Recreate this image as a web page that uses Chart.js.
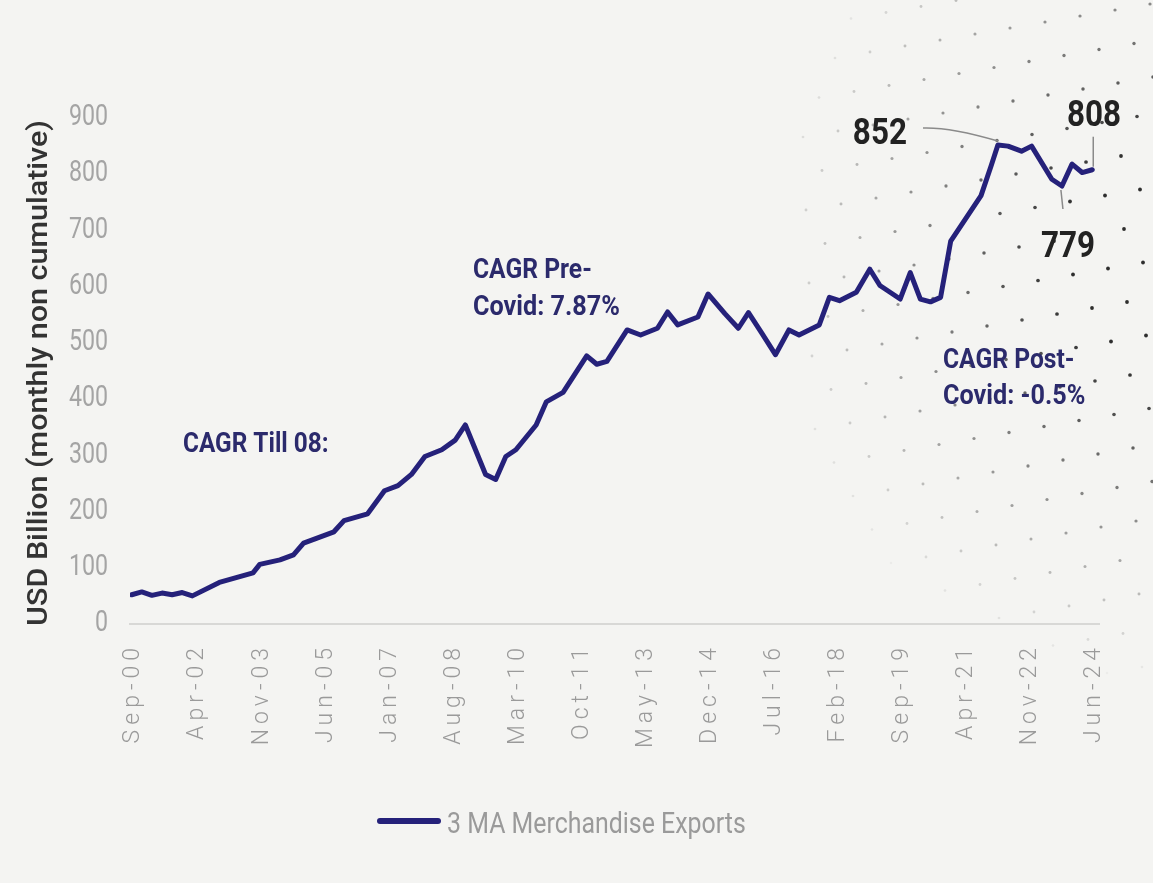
<!DOCTYPE html>
<html>
<head>
<meta charset="utf-8">
<title>Merchandise Exports</title>
<script src="https://cdn.jsdelivr.net/npm/chart.js@4.4.1/dist/chart.umd.min.js"></script>
<style>
  html, body { margin: 0; padding: 0; background: #f4f4f2; }
  #wrap { width: 1153px; height: 883px; }
</style>
</head>
<body>
<div id="wrap"><canvas id="exportsChart" width="1153" height="883"></canvas></div>
<script>
// months counted from Sep-2000, 3 month moving average of merchandise exports (USD bn)
const monthIdx = [0, 3, 6, 9, 12, 15, 18, 26, 36, 38, 44, 48, 51, 56, 60, 63, 70, 75, 79, 83,
  87, 92, 96, 99, 105, 108, 111, 114, 120, 123, 128, 135, 138, 141, 147, 151, 156, 159, 162, 168,
  171, 176, 180, 183, 187, 191, 195, 198, 204, 207, 210, 215, 219, 222, 228, 231, 234, 237, 240, 243,
  252, 255, 257, 260, 264, 267, 273, 276, 279, 282, 285];
const exportsBn = [52, 57, 51, 55, 52, 56, 50, 74, 91, 106, 114, 123, 144, 155, 164, 184, 196, 237, 246, 266,
  298, 310, 327, 354, 266, 257, 298, 310, 354, 395, 412, 477, 462, 467, 523, 514, 526, 555, 532, 546,
  587, 552, 526, 554, 517, 479, 523, 514, 532, 581, 575, 590, 631, 602, 578, 625, 578, 573, 581, 681,
  762, 815, 852, 850, 841, 850, 791, 779, 818, 803, 808];

const tickMonths = [0, 19, 38, 57, 76, 95, 114, 133, 152, 171, 190, 209, 228, 247, 266, 285];
const tickLabels = ["Sep-00", "Apr-02", "Nov-03", "Jun-05", "Jan-07", "Aug-08", "Mar-10", "Oct-11",
  "May-13", "Dec-14", "Jul-16", "Feb-18", "Sep-19", "Apr-21", "Nov-22", "Jun-24"];
const yTickValues = [0, 100, 200, 300, 400, 500, 600, 700, 800, 900];
const yTitle = "USD Billion (monthly non cumulative)";

// callouts: [month, value] anchors
const peakMark = { m: 257, v: 852, text: "852" };
const lowMark = { m: 276, v: 779, text: "779" };
const lastMark = { m: 285, v: 808, text: "808" };

const NAVY = "#25217a";
const FONT = '"Roboto", sans-serif';

const points = monthIdx.map((m, i) => ({ x: m, y: exportsBn[i] }));

// squeezed text, the labels use a narrow face
function narrowText(ctx, text, x, y, align, sx) {
  ctx.save();
  ctx.translate(x, y);
  ctx.scale(sx, 1);
  ctx.textAlign = align;
  ctx.fillText(text, 0, 0);
  ctx.restore();
}

// paper background with the halftone dots on the right
const backdrop = {
  id: "backdrop",
  beforeDraw(chart) {
    const ctx = chart.ctx;
    ctx.save();
    ctx.fillStyle = "#f4f4f2";
    ctx.fillRect(0, 0, chart.width, chart.height);
    for (let i = -40; i <= 40; i++) {
      for (let j = -10; j <= 30; j++) {
        const x = 943 + 35 * i - 16 * j;
        const y = 113 - 6 * i + 39.5 * j;
        if (x < 800 || x > chart.width || y < 0 || y > chart.height) continue;
        const d = Math.hypot(x - 1175, y - 260);
        const a = Math.max(0, Math.min(1, 1 - (d - 110) / 320));
        if (a <= 0.03) continue;
        ctx.fillStyle = `rgba(35,35,35,${(a * 0.95).toFixed(3)})`;
        ctx.beginPath();
        ctx.arc(x, y, 1.3 + a * 0.6, 0, Math.PI * 2);
        ctx.fill();
      }
    }
    ctx.restore();
  }
};

// axis labels: rotated, letter-spaced months, narrow value ticks and the value title
const axisLabels = {
  id: "axisLabels",
  afterDraw(chart) {
    const ctx = chart.ctx;
    const area = chart.chartArea;
    const xs = chart.scales.x, ys = chart.scales.y;
    const top = area.bottom + 24;
    ctx.save();
    ctx.font = '300 23px ' + FONT;
    ctx.fillStyle = "#9a9a9a";
    ctx.letterSpacing = "5px";
    ctx.textAlign = "right";
    ctx.textBaseline = "middle";
    tickMonths.forEach((m, i) => {
      ctx.save();
      ctx.translate(xs.getPixelForValue(m) + 2, top);
      ctx.rotate(-Math.PI / 2);
      ctx.fillText(tickLabels[i], 5, 0);
      ctx.restore();
    });
    ctx.letterSpacing = "0px";
    ctx.font = '29px ' + FONT;
    ctx.fillStyle = "#a4a4a4";
    yTickValues.forEach((v) => {
      narrowText(ctx, String(v), area.left - 22, ys.getPixelForValue(v), "right", 0.8);
    });

    // title runs the full height of the plot
    ctx.font = '500 27px ' + FONT;
    ctx.fillStyle = "#333333";
    const span = ys.getPixelForValue(0) - ys.getPixelForValue(900);
    const w = ctx.measureText(yTitle).width;
    ctx.save();
    ctx.translate(40, (area.top + area.bottom) / 2 + 2);
    ctx.rotate(-Math.PI / 2);
    ctx.scale(span / w, 1);
    ctx.textAlign = "center";
    ctx.fillText(yTitle, 0, 0);
    ctx.restore();
    ctx.restore();
  }
};

// growth notes, value callouts and legend
const notes = {
  id: "notes",
  afterDraw(chart) {
    const ctx = chart.ctx;
    const xs = chart.scales.x, ys = chart.scales.y;
    const px = (m, v) => [xs.getPixelForValue(m), ys.getPixelForValue(v)];
    ctx.save();
    ctx.textBaseline = "alphabetic";

    ctx.fillStyle = "#2b2a6c";
    ctx.font = "bold 28px " + FONT;
    narrowText(ctx, "CAGR Till 08:", 183, 452, "left", 0.87);
    narrowText(ctx, "CAGR Pre-", 473, 278, "left", 0.88);
    narrowText(ctx, "Covid: 7.87%", 473, 315, "left", 0.9);
    narrowText(ctx, "CAGR Post-", 943, 368, "left", 0.88);
    narrowText(ctx, "Covid: -0.5%", 943, 404, "left", 0.9);

    // leader lines
    ctx.strokeStyle = "#8a8a8a";
    ctx.lineWidth = 1.5;
    let [x, y] = px(peakMark.m, peakMark.v);
    ctx.beginPath();
    ctx.moveTo(923, 128);
    ctx.quadraticCurveTo(950, 127, x, y - 4);
    ctx.stroke();
    [x, y] = px(lowMark.m, lowMark.v);
    ctx.beginPath();
    ctx.moveTo(x - 1, y + 4);
    ctx.lineTo(x + 1, y + 23);
    ctx.stroke();
    [x, y] = px(lastMark.m, lastMark.v);
    ctx.beginPath();
    ctx.moveTo(x + 1, y - 3);
    ctx.lineTo(x + 1, y - 33);
    ctx.stroke();

    ctx.fillStyle = "#222222";
    ctx.font = "bold 37px " + FONT;
    narrowText(ctx, peakMark.text, 907, 144, "right", 0.85);
    narrowText(ctx, lowMark.text, 1041, 257, "left", 0.85);
    narrowText(ctx, lastMark.text, 1094, 126, "center", 0.85);

    // legend
    ctx.strokeStyle = NAVY;
    ctx.lineWidth = 6;
    ctx.lineCap = "round";
    ctx.beginPath();
    ctx.moveTo(380, 821);
    ctx.lineTo(438, 821);
    ctx.stroke();
    ctx.fillStyle = "#9a9a9a";
    ctx.font = "30px " + FONT;
    narrowText(ctx, "3 MA Merchandise Exports", 447, 833, "left", 0.83);
    ctx.restore();
  }
};

new Chart(document.getElementById("exportsChart"), {
  type: "line",
  data: {
    datasets: [{
      label: "3 MA Merchandise Exports",
      data: points,
      borderColor: NAVY,
      borderWidth: 5,
      borderJoinStyle: "round",
      borderCapStyle: "round",
      pointRadius: 0,
      tension: 0,
      fill: false
    }]
  },
  options: {
    responsive: false,
    animation: false,
    events: [],
    layout: { padding: { left: 20, right: 54, top: 118, bottom: 251 } },
    plugins: { legend: { display: false }, tooltip: { enabled: false } },
    scales: {
      x: {
        type: "linear",
        min: -0.5,
        max: 287,
        grid: { display: false },
        border: { display: true, color: "#d8d8d6", width: 2 },
        ticks: { display: false }
      },
      y: {
        min: 0,
        max: 900,
        afterFit(scale) { scale.width = 110; },
        grid: { display: false },
        border: { display: false },
        ticks: { display: false, stepSize: 100 }
      }
    }
  },
  plugins: [backdrop, axisLabels, notes]
});
</script>
</body>
</html>
